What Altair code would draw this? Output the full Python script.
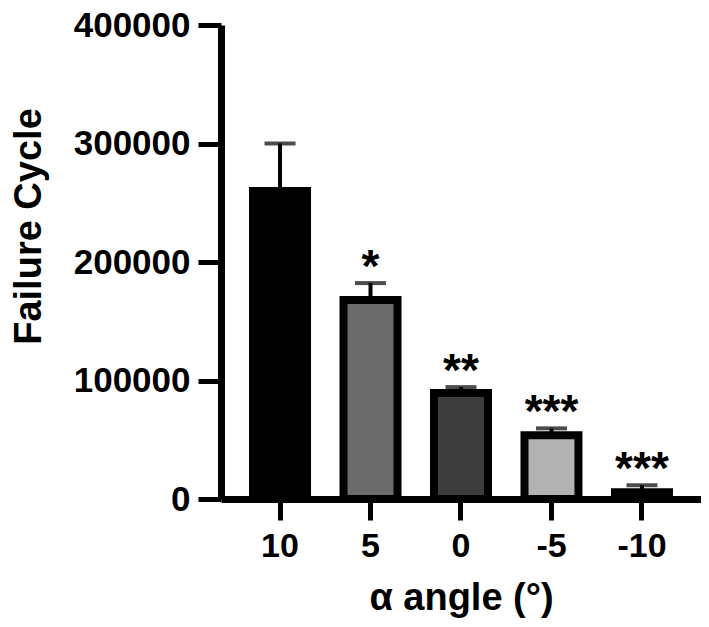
import altair as alt
import pandas as pd

angles = ["10", "5", "0", "-5", "-10"]
means = [260000, 168000, 89400, 53800, 5800]
uppers = [300000, 182200, 94400, 59600, 11600]
fills = ["#000000", "#6b6b6b", "#3d3d3d", "#b3b3b3", "#0a0a0a"]
stars = ["", "*", "**", "***", "***"]

df = pd.DataFrame({
    "angle": angles,
    "mean": means,
    "upper": uppers,
    "fill": fills,
    "stars": stars,
})

FONT = "Liberation Sans"

xscale = alt.Scale(paddingInner=0.4033, paddingOuter=0.354, align=0.5)
yscale = alt.Scale(domain=[0, 400000], nice=False)

xenc = alt.X(
    "angle:N", sort=angles, scale=xscale, title="α angle (°)",
    axis=alt.Axis(
        labelAngle=0, labelFontSize=34, labelFont=FONT, labelFontWeight="bold",
        labelColor="black", labelPadding=9, grid=False,
        tickSize=21, tickWidth=5, tickColor="black",
        domainWidth=7, domainColor="black",
        titleFontSize=38, titleFont=FONT, titleFontWeight="bold", titleColor="black",
        titleX=240, titleY=110, titleBaseline="alphabetic", titleAlign="center",
    ),
)
yenc = alt.Y(
    "mean:Q", scale=yscale, title="Failure Cycle",
    axis=alt.Axis(
        values=[0, 100000, 200000, 300000, 400000], format="d", grid=False,
        labelFontSize=35, labelFont=FONT, labelFontWeight="bold",
        labelColor="black", labelPadding=8,
        tickSize=23, tickWidth=5, tickColor="black",
        domainWidth=7, domainColor="black",
        titleFontSize=38, titleFont=FONT, titleFontWeight="bold", titleColor="black",
        titleX=-192, titleY=201, titleBaseline="middle", titleAlign="center", titleAngle=-90,
    ),
)

x_plain = alt.X("angle:N", sort=angles, scale=xscale)

base = alt.Chart(df)

bars = base.mark_bar(stroke="black", strokeWidth=8, strokeJoin="miter").encode(
    x=xenc,
    y=yenc,
    fill=alt.Fill("fill:N", scale=None, legend=None),
)

err = base.mark_rule(color="black", strokeWidth=4).encode(
    x=x_plain,
    y=alt.Y("mean:Q", scale=yscale),
    y2="upper:Q",
)

caps = base.mark_tick(orient="horizontal", color="black", size=31, thickness=4).encode(
    x=x_plain,
    y=alt.Y("upper:Q", scale=yscale),
)

txt = base.mark_text(
    font=FONT, fontSize=46, fontWeight="bold", color="black",
    baseline="alphabetic", align="center", dy=-1,
).encode(
    x=x_plain,
    y=alt.Y("upper:Q", scale=yscale),
    text="stars:N",
)

chart = (
    alt.layer(bars, err, caps, txt)
    .properties(
        width=480, height=474,
        autosize=alt.AutoSizeParams(type="none"),
        padding={"left": 213, "top": 17, "right": 0, "bottom": 120},
    )
    .configure(background="white")
    .configure_view(stroke="transparent", strokeWidth=0)
    .configure_axis(grid=False)
)

chart.save("out.html", embed_options={"renderer": "svg", "actions": False})
